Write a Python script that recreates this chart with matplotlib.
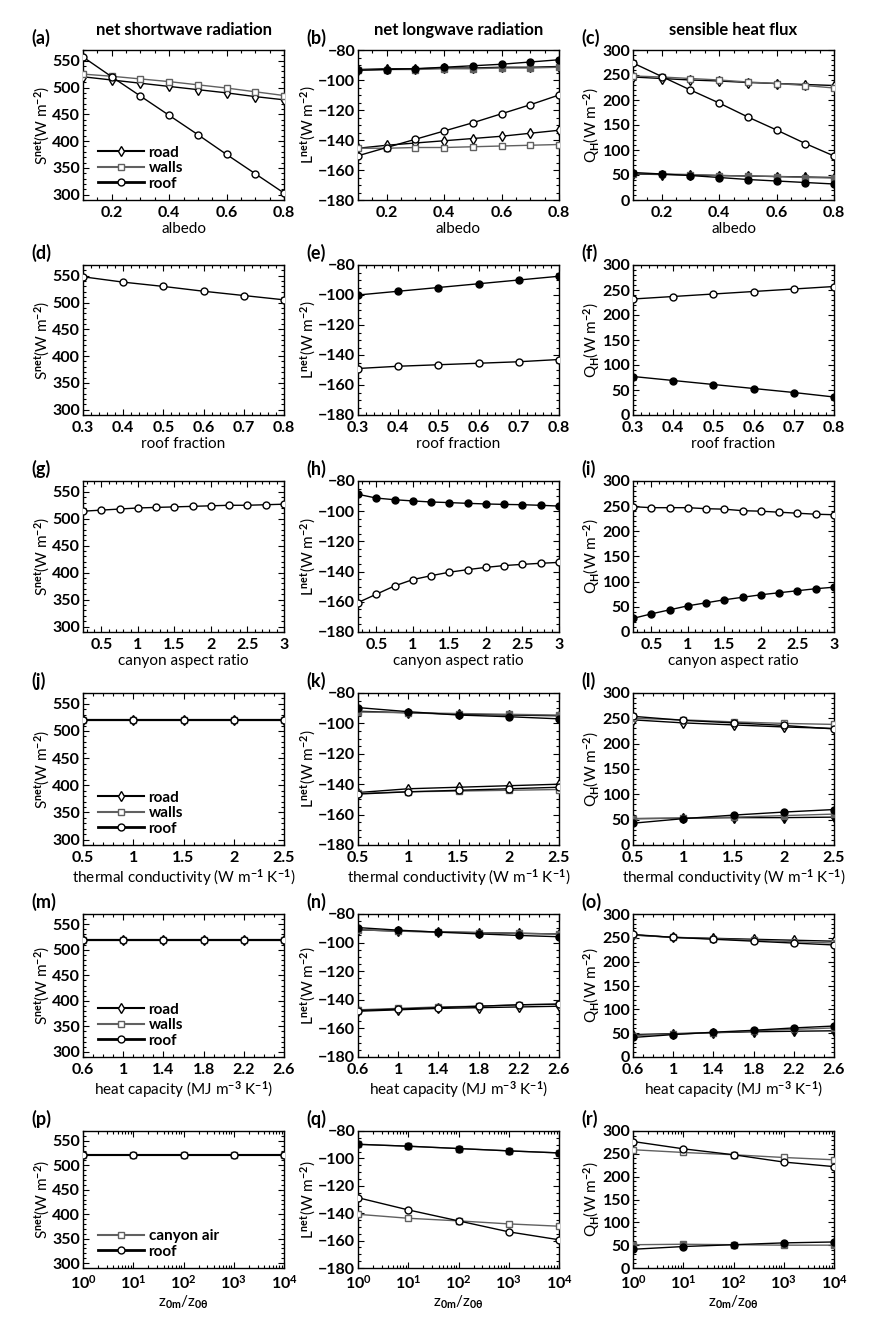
import numpy as np
import matplotlib.pyplot as plt
from matplotlib.ticker import AutoMinorLocator, LogLocator, NullFormatter
from matplotlib.lines import Line2D

plt.rcParams['font.family'] = ['Lato', 'DejaVu Sans']
plt.rcParams['font.weight'] = 'bold'
plt.rcParams['mathtext.fontset'] = 'custom'
plt.rcParams['mathtext.rm'] = 'Lato:bold'
plt.rcParams['mathtext.it'] = 'Lato:bold'
plt.rcParams['mathtext.bf'] = 'Lato:bold'

# ---------------- data ----------------
albedo = [0.1, 0.2, 0.3, 0.4, 0.5, 0.6, 0.7, 0.8]
a_road = [520, 514, 508, 502, 496, 490, 483, 477]
a_walls = [525, 521, 516, 511, 505, 499, 492, 485]
a_roof = [557, 520, 484, 448, 412, 375, 339, 303]
b_road_o = [-145.5, -143.5, -142, -140.5, -139, -137.5, -135.5, -133.5]
b_walls_o = [-145.5, -145.5, -145, -145, -144.5, -144, -143.5, -143]
b_roof_o = [-150.5, -145, -139.5, -134, -128.5, -122.5, -116.5, -110]
b_road_f = [-93, -92.5, -92.5, -92, -92, -91.5, -91.5, -91]
b_walls_f = [-93.5, -93, -93, -92.5, -92.5, -92, -92, -91.5]
b_roof_f = [-93.5, -93, -92.5, -91.5, -90.5, -89.5, -88, -86.5]
c_road_o = [246, 243, 240, 238, 235, 233, 231, 229]
c_walls_o = [248, 246, 243, 240, 236, 233, 229, 224]
c_roof_o = [274, 247, 220, 194, 166, 140, 113, 88]
c_road_f = [52, 51, 50, 49, 48, 47, 46, 45]
c_walls_f = [53, 52, 51, 49, 48, 47, 45, 44]
c_roof_f = [55, 52, 49, 45, 41, 38, 35, 32]

roof_frac = [0.3, 0.4, 0.5, 0.6, 0.7, 0.8]
d_open = [548, 538, 530, 521, 513, 505]
e_open = [-149, -147.5, -146.5, -145.5, -144.5, -143]
e_fill = [-100, -97.5, -95, -92.5, -90, -87.5]
f_open = [232, 237, 242, 247, 252, 257]
f_fill = [77, 69, 61, 53, 45, 36]

aspect = [0.25, 0.5, 0.75, 1.0, 1.25, 1.5, 1.75, 2.0, 2.25, 2.5, 2.75, 3.0]
g_open = [514, 516, 518, 520, 521, 522, 523, 524, 525, 525, 526, 527]
h_open = [-160.5, -155, -149.5, -145.3, -142.7, -140.4, -138.7, -137.2, -136, -135.2, -134.5, -133.9]
h_fill = [-88.8, -91.3, -92.4, -93.2, -93.9, -94.3, -94.8, -95.2, -95.5, -95.7, -96.1, -96.6]
i_open = [249, 247, 247, 247, 245, 244, 241, 240, 238, 236, 234, 233]
i_fill = [27, 36, 44, 52, 58, 64, 69, 74, 78, 82, 86, 89]

conductivity = [0.5, 1.0, 1.5, 2.0, 2.5]
j_road = [520, 520, 520, 520, 520]
j_walls = [520, 520, 520, 520, 520]
j_roof = [520, 520, 520, 520, 520]
k_road_o = [-145.5, -143, -142, -141, -140]
k_walls_o = [-146, -145, -144.5, -144, -143.5]
k_roof_o = [-146.5, -145, -144, -143, -142]
k_road_f = [-92, -93, -94, -94.5, -95]
k_walls_f = [-92.5, -93, -93.5, -94, -94.5]
k_roof_f = [-89.6, -92.3, -94.5, -95.6, -97]
l_road_o = [247, 241, 237, 233, 230]
l_walls_o = [250, 247, 243, 240, 238]
l_roof_o = [254, 246, 241, 236, 229]
l_road_f = [52, 53, 54, 54, 55]
l_walls_f = [52, 53, 55, 58, 61]
l_roof_f = [43, 52, 59, 65, 70]

capacity = [0.6, 1.0, 1.4, 1.8, 2.2, 2.6]
m_road = [520, 520, 520, 520, 520, 520]
m_walls = [520, 520, 520, 520, 520, 520]
m_roof = [520, 520, 520, 520, 520, 520]
n_road_o = [-148, -147, -146, -145.5, -145, -144.5]
n_walls_o = [-147, -146, -145, -144.5, -143.5, -143]
n_roof_o = [-147.5, -146.5, -145.5, -144.5, -143.5, -143]
n_road_f = [-91, -92, -92.5, -93, -93.5, -94]
n_walls_f = [-91, -92, -92.5, -93, -93.5, -94]
n_roof_f = [-89.5, -91.3, -92.7, -93.9, -95, -95.9]
o_road_o = [256, 251, 249, 247, 245, 243]
o_walls_o = [256, 251, 248, 245, 242, 239]
o_roof_o = [257, 251, 247, 243, 239, 235]
o_road_f = [47, 49, 51, 53, 54, 55]
o_walls_f = [45, 48, 51, 55, 58, 61]
o_roof_f = [41, 47, 52, 56, 61, 65]

z_ratio = [1, 10, 100, 1000, 10000]
p_air = [520, 520, 520, 520, 520]
p_roof = [520, 520, 520, 520, 520]
q_air_o = [-140.8, -143.7, -145.6, -147.8, -149.5]
q_roof_o = [-128.7, -137.6, -145.6, -153.6, -159.4]
q_air_f = [-89.7, -91.1, -92.8, -94.5, -96]
q_roof_f = [-89.7, -91.1, -92.8, -94.5, -96]
r_air_o = [259, 253, 248, 242, 237]
r_roof_o = [277, 261, 248, 232, 222]
r_air_f = [51, 52, 51, 50, 50]
r_roof_f = [41, 47, 51, 55, 57]

col_titles = ['net shortwave radiation', 'net longwave radiation', 'sensible heat flux']
x_labels = ['albedo', 'roof fraction', 'canyon aspect ratio',
            r'thermal conductivity (W m$^{-1}$ K$^{-1}$)',
            r'heat capacity (MJ m$^{-3}$ K$^{-1}$)',
            r'z$_{0m}$/z$_{0\theta}$']
y_labels = [r'S$^{net}$(W m$^{-2}$)', r'L$^{net}$(W m$^{-2}$)', r'Q$_{H}$(W m$^{-2}$)']
letters = 'abcdefghijklmnopqr'

BLACK = 'black'
GRAY = '#606060'
MS_D = 5.5

# ---------------- layout ----------------
W, H = 874, 1341
fig = plt.figure(figsize=(W / 100, H / 100), dpi=100)
col_left = [83, 358, 633]
col_w = 201
row_top = [50, 265, 481, 693, 914, 1131]
row_h = [150, 150, 151, 152, 143, 137]

axes = []
for r in range(6):
    row = []
    for c in range(3):
        ax = fig.add_axes([col_left[c] / W, 1 - (row_top[r] + row_h[r]) / H,
                           col_w / W, row_h[r] / H])
        row.append(ax)
    axes.append(row)


def line(ax, x, y, mk, col, filled, lw=1.0, ms=5):
    if mk == 'd':
        ms = MS_D
    ax.plot(x, y, color=col, marker=mk, ms=ms, mew=1.0, mec=col,
            mfc=col if filled else 'white', lw=lw, zorder=3)


ylims = [(290, 570), (-180, -80), (0, 300)]
yticks = [np.arange(300, 551, 50), np.arange(-180, -79, 20), np.arange(0, 301, 50)]
xlims = [(0.1, 0.8), (0.3, 0.8), (0.25, 3), (0.5, 2.5), (0.6, 2.6), (1, 1e4)]
xticks = [[0.2, 0.4, 0.6, 0.8], roof_frac, [0.5, 1, 1.5, 2, 2.5, 3],
          conductivity, capacity, z_ratio]
xticklabels = [['0.2', '0.4', '0.6', '0.8'], ['0.3', '0.4', '0.5', '0.6', '0.7', '0.8'],
               ['0.5', '1', '1.5', '2', '2.5', '3'], ['0.5', '1', '1.5', '2', '2.5'],
               ['0.6', '1', '1.4', '1.8', '2.2', '2.6'], None]

# row 1: albedo
ax = axes[0][0]
line(ax, albedo, a_road, 'd', BLACK, False)
line(ax, albedo, a_walls, 's', GRAY, False)
line(ax, albedo, a_roof, 'o', BLACK, False)
ax = axes[0][1]
for vals, mk, col in [(b_road_f, 'd', BLACK), (b_walls_f, 's', GRAY), (b_roof_f, 'o', BLACK)]:
    line(ax, albedo, vals, mk, col, True)
for vals, mk, col in [(b_road_o, 'd', BLACK), (b_walls_o, 's', GRAY), (b_roof_o, 'o', BLACK)]:
    line(ax, albedo, vals, mk, col, False)
ax = axes[0][2]
for vals, mk, col in [(c_road_f, 'd', BLACK), (c_walls_f, 's', GRAY), (c_roof_f, 'o', BLACK)]:
    line(ax, albedo, vals, mk, col, True)
for vals, mk, col in [(c_road_o, 'd', BLACK), (c_walls_o, 's', GRAY), (c_roof_o, 'o', BLACK)]:
    line(ax, albedo, vals, mk, col, False)

# row 2: roof fraction
line(axes[1][0], roof_frac, d_open, 'o', BLACK, False)
line(axes[1][1], roof_frac, e_open, 'o', BLACK, False)
line(axes[1][1], roof_frac, e_fill, 'o', BLACK, True)
line(axes[1][2], roof_frac, f_open, 'o', BLACK, False)
line(axes[1][2], roof_frac, f_fill, 'o', BLACK, True)

# row 3: canyon aspect ratio
line(axes[2][0], aspect, g_open, 'o', BLACK, False)
line(axes[2][1], aspect, h_open, 'o', BLACK, False)
line(axes[2][1], aspect, h_fill, 'o', BLACK, True)
line(axes[2][2], aspect, i_open, 'o', BLACK, False)
line(axes[2][2], aspect, i_fill, 'o', BLACK, True)

# rows 4 and 5: thermal conductivity, heat capacity
for r, x, s_set, l_set, q_set in [
        (3, conductivity, (j_road, j_walls, j_roof),
         (k_road_o, k_walls_o, k_roof_o, k_road_f, k_walls_f, k_roof_f),
         (l_road_o, l_walls_o, l_roof_o, l_road_f, l_walls_f, l_roof_f)),
        (4, capacity, (m_road, m_walls, m_roof),
         (n_road_o, n_walls_o, n_roof_o, n_road_f, n_walls_f, n_roof_f),
         (o_road_o, o_walls_o, o_roof_o, o_road_f, o_walls_f, o_roof_f))]:
    ax = axes[r][0]
    line(ax, x, s_set[0], 'd', BLACK, False, lw=1.5)
    line(ax, x, s_set[1], 's', GRAY, False, lw=1.5)
    line(ax, x, s_set[2], 'o', BLACK, False, lw=1.5)
    for c, sets in [(1, l_set), (2, q_set)]:
        ax = axes[r][c]
        for k, filled in [(3, True), (0, False)]:
            line(ax, x, sets[k], 'd', BLACK, filled)
            line(ax, x, sets[k + 1], 's', GRAY, filled)
            line(ax, x, sets[k + 2], 'o', BLACK, filled)

# row 6: roughness length ratio
ax = axes[5][0]
line(ax, z_ratio, p_air, 's', GRAY, False, lw=1.5)
line(ax, z_ratio, p_roof, 'o', BLACK, False, lw=1.5)
ax = axes[5][1]
line(ax, z_ratio, q_air_f, 's', GRAY, True)
line(ax, z_ratio, q_roof_f, 'o', BLACK, True)
line(ax, z_ratio, q_air_o, 's', GRAY, False)
line(ax, z_ratio, q_roof_o, 'o', BLACK, False)
ax = axes[5][2]
line(ax, z_ratio, r_air_f, 's', GRAY, True)
line(ax, z_ratio, r_roof_f, 'o', BLACK, True)
line(ax, z_ratio, r_air_o, 's', GRAY, False)
line(ax, z_ratio, r_roof_o, 'o', BLACK, False)

# ---------------- axes styling ----------------
for r in range(6):
    for c in range(3):
        ax = axes[r][c]
        if r == 5:
            ax.set_xscale('log')
            ax.xaxis.set_major_locator(LogLocator(base=10, numticks=10))
            ax.xaxis.set_minor_locator(LogLocator(base=10, subs=np.arange(2, 10), numticks=20))
            ax.xaxis.set_minor_formatter(NullFormatter())
        else:
            ax.set_xticks(xticks[r])
            ax.set_xticklabels(xticklabels[r])
            ax.xaxis.set_minor_locator(AutoMinorLocator(4 if r in (0, 4) else 5))
        ax.set_xlim(*xlims[r])
        ax.set_ylim(*ylims[c])
        ax.set_yticks(yticks[c])
        ax.yaxis.set_minor_locator(AutoMinorLocator(5 if c != 1 else 4))
        ax.tick_params(which='both', direction='in', top=True, right=True,
                       labelsize=11.5, width=0.8)
        ax.tick_params(axis='y', pad=2)
        ax.tick_params(axis='x', pad=4.5)
        ax.tick_params(which='major', length=4)
        ax.tick_params(which='minor', length=2)
        for sp in ax.spines.values():
            sp.set_linewidth(1.0)
        ax.set_xlabel(x_labels[r], fontsize=11, labelpad=1)
        ax.set_ylabel(y_labels[c], fontsize=11, labelpad=0)
        # panel letter
        pos = ax.get_position()
        fig.text(pos.x0 - 52 / W, pos.y1 + 3 / H, '(' + letters[3 * r + c] + ')',
                 fontsize=13, ha='left', va='bottom')

for c in range(3):
    pos = axes[0][c].get_position()
    fig.text((pos.x0 + pos.x1) / 2, pos.y1 + 12 / H, col_titles[c],
             fontsize=12, ha='center', va='bottom')

# legends
three = [Line2D([], [], color=BLACK, lw=1.5, marker='d', ms=MS_D, mfc='white', label='road'),
         Line2D([], [], color=GRAY, lw=1.5, marker='s', ms=5, mfc='white', label='walls'),
         Line2D([], [], color=BLACK, lw=2.0, marker='o', ms=5, mfc='white', label='roof')]
for r in (0, 3, 4):
    axes[r][0].legend(handles=three, loc='lower left', frameon=False, fontsize=11,
                      handlelength=3.0, labelspacing=0.1, handletextpad=0.3,
                      borderaxespad=0.2, bbox_to_anchor=(0.03, 0.0))
two = [Line2D([], [], color=GRAY, lw=1.5, marker='s', ms=5, mfc='white', label='canyon air'),
       Line2D([], [], color=BLACK, lw=2.0, marker='o', ms=5, mfc='white', label='roof')]
axes[5][0].legend(handles=two, loc='lower left', frameon=False, fontsize=11,
                  handlelength=3.0, labelspacing=0.1, handletextpad=0.3,
                  borderaxespad=0.2, bbox_to_anchor=(0.03, 0.0))

fig.savefig('out.png', dpi=100)
